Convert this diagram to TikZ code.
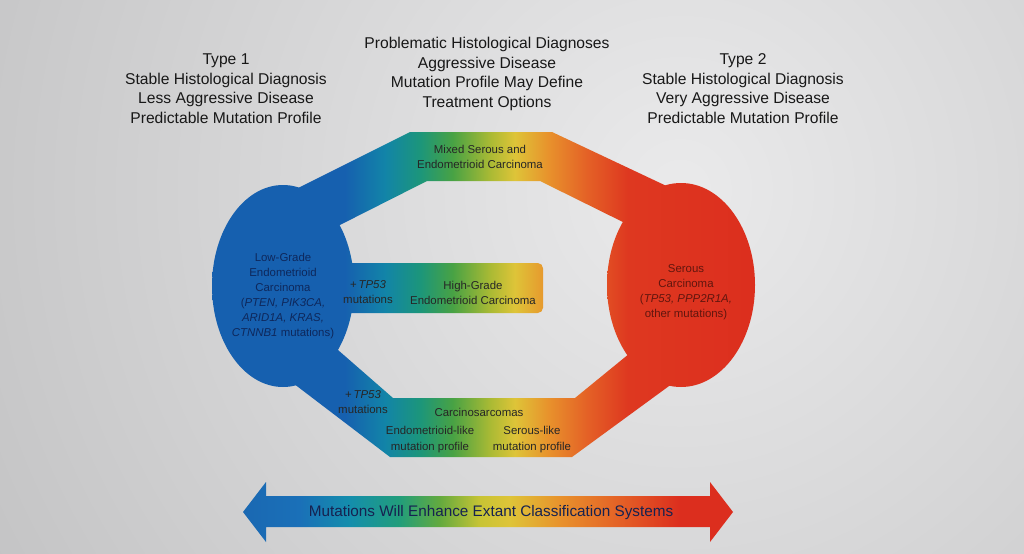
\documentclass[tikz,border=0pt]{standalone}
\usepackage{fontspec}
\setmainfont{Liberation Sans}
\usetikzlibrary{positioning}

\definecolor{bgIn}{RGB}{234,234,235}
\definecolor{bgOut}{RGB}{196,196,197}
\definecolor{hdrgray}{RGB}{24,24,24}
\definecolor{txtL}{RGB}{14,40,92}
\definecolor{txtR}{RGB}{98,22,14}
\definecolor{txtA}{RGB}{22,34,80}
% ring colours, left to right
\definecolor{rBlue}{RGB}{22,96,175}
\definecolor{rTeal}{RGB}{18,132,168}
\definecolor{rSea}{RGB}{28,150,122}
\definecolor{rGreen}{RGB}{72,162,68}
\definecolor{rLime}{RGB}{170,186,52}
\definecolor{rYellow}{RGB}{222,196,56}
\definecolor{rOrange}{RGB}{232,146,44}
\definecolor{rRedOr}{RGB}{228,96,38}
\definecolor{rRed}{RGB}{222,56,32}
\definecolor{rRedD}{RGB}{220,46,30}
% arrow colours
\definecolor{aBlue}{RGB}{26,104,178}
\definecolor{aBlue2}{RGB}{26,112,184}
\definecolor{aTeal}{RGB}{20,142,172}
\definecolor{aSea}{RGB}{34,158,122}
\definecolor{aGreen}{RGB}{100,170,62}
\definecolor{aLime}{RGB}{200,196,52}

\pgfdeclarehorizontalshading{ringshade}{100bp}{color(0bp)=(rBlue); color(25bp)=(rBlue);
  color(37.6bp)=(rBlue); color(41.2bp)=(rTeal); color(44.4bp)=(rSea); color(47.3bp)=(rGreen);
  color(50.7bp)=(rLime); color(52.9bp)=(rYellow); color(55.9bp)=(rOrange); color(59.5bp)=(rRedOr);
  color(63.1bp)=(rRed); color(75bp)=(rRedD); color(100bp)=(rRedD)}
\pgfdeclarehorizontalshading{arrowshade}{100bp}{color(0bp)=(aBlue); color(25bp)=(aBlue);
  color(30.8bp)=(aBlue2); color(35.9bp)=(aTeal); color(41bp)=(aSea); color(45.1bp)=(aGreen);
  color(49.2bp)=(aLime); color(52.2bp)=(rYellow); color(57.3bp)=(rOrange); color(63.5bp)=(rRedOr);
  color(69.6bp)=(rRedD); color(75bp)=(rRedD); color(100bp)=(rRedD)}

\begin{document}
\begin{tikzpicture}[x=0.02cm,y=-0.02cm,
  hdr/.style={font=\fontsize{8.9}{11.1}\selectfont,align=center,text=hdrgray},
  lbl/.style={font=\fontsize{6.5}{8.6}\selectfont,align=center,text=black!85}]
\useasboundingbox (0,0) rectangle (1024,554);
\begin{scope}
  \clip (0,0) rectangle (1024,554);
  \shade[inner color=bgIn,outer color=bgOut] (680,190) circle (780);
\end{scope}

% ring of ellipses and bands, one shading for all parts
\foreach \piece in {
  {(283,286) ellipse [x radius=71,y radius=101]},
  {(681,285) ellipse [x radius=74,y radius=102]},
  {(290,192) -- (410,132) -- (552,132) -- (675,190) -- (635,228) -- (540,181) -- (427,181) -- (330,230) -- cycle},
  {(285,377) -- (390,457) -- (572,457) -- (680,378) -- (635,349) -- (575,398) -- (393,398) -- (330,343) -- cycle},
  {[rounded corners=3pt] (320,263) rectangle (543,313)}} {
  \begin{scope}
    \clip \piece;
    \shade[shading=ringshade] (205,125) rectangle (760,465);
  \end{scope}
}

% double arrow
\shade[shading=arrowshade] (243,512) -- (266,482) -- (266,496) -- (710,496) -- (710,482) -- (733,512)
  -- (710,542) -- (710,527) -- (266,527) -- (266,542) -- cycle;

\node[hdr] (typeone) at (226,88.5) {Type 1\\Stable Histological Diagnosis\\Less Aggressive Disease\\Predictable Mutation Profile};
\node[hdr] (problem) at (487,74) {Problematic Histological Diagnoses\\Aggressive Disease\\Mutation Profile May Define\\Treatment Options};
\node[hdr] (typetwo) at (743,88.5) {Type 2\\Stable Histological Diagnosis\\Very Aggressive Disease\\Predictable Mutation Profile};

\node[lbl,text=txtL] (lowgrade) at (283,296) {Low-Grade\\Endometrioid\\Carcinoma\\(\textit{PTEN, PIK3CA,}\\\textit{ARID1A, KRAS,}\\\textit{CTNNB1} mutations)};
\node[lbl,text=txtR] (serous) at (686,292) {Serous\\Carcinoma\\(\textit{TP53, PPP2R1A,}\\other mutations)};
\node[lbl] (mixed) at (480,156.5) {Mixed Serous and\\Endometrioid Carcinoma};
\node[lbl] (plusmid) at (368,292.5) {+\,\textit{TP53}\\mutations};
\node[lbl] (highgrade) at (473,292.5) {High-Grade\\Endometrioid Carcinoma};
\node[lbl] (plusbot) at (363,402) {+\,\textit{TP53}\\mutations};
\node[lbl] (carcino) at (479,412) {Carcinosarcomas};
\node[lbl] (endolike) at (430,439.5) {Endometrioid-like\\mutation profile};
\node[lbl] (serlike) at (532,439.5) {Serous-like\\mutation profile};

\node[font=\fontsize{8.7}{10}\selectfont,text=txtA] (enhance) at (491,513) {Mutations Will Enhance Extant Classification Systems};
\end{tikzpicture}
\end{document}
